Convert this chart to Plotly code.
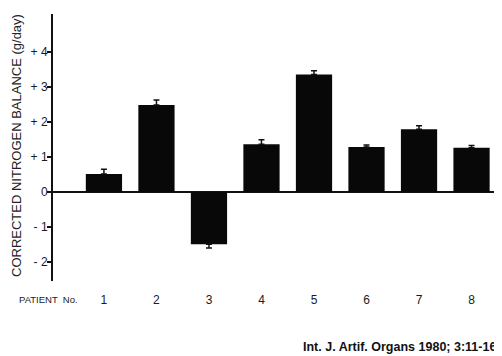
import plotly.graph_objects as go

patients = [1, 2, 3, 4, 5, 6, 7, 8]
patient_labels = ["1", "2", "3", "4", "5", "6", "7", "8"]
balance = [0.52, 2.49, -1.49, 1.37, 3.36, 1.29, 1.80, 1.27]
err_up = [0.13, 0.14, 0.0, 0.13, 0.11, 0.06, 0.10, 0.06]
err_down = [0.0, 0.0, 0.11, 0.0, 0.0, 0.0, 0.0, 0.0]
ytick_vals = [4, 3, 2, 1, 0, -1, -2]
ytick_text = ["+ 4", "+ 3", "+ 2", "+ 1", "0", "- 1", "- 2"]

# page body has an 8px margin, so the figure is laid out 8px up/left of window coords
OFF = 8
W, H = 502 - OFF, 356 - OFF
L, R, T = 53 - OFF, 0, 14 - OFF
B = H - (281 - OFF)
PW, PH = W - L - R, H - T - B
FONT = "Liberation Sans, Arial, sans-serif"


def px(xw):
    return (xw - OFF - L) / PW


def py(yw):
    return 1 - (yw - OFF - T) / PH


fig = go.Figure()
fig.add_trace(go.Bar(
    x=patients, y=balance, width=0.69,
    marker=dict(color="#080808", line=dict(width=0)),
    error_y=dict(type="data", symmetric=False, array=err_up, arrayminus=err_down,
                 color="#111", thickness=1.5, width=3),
))

fig.update_layout(
    width=W, height=H,
    margin=dict(l=L, r=R, t=T, b=B, pad=0, autoexpand=False),
    paper_bgcolor="white", plot_bgcolor="white",
    showlegend=False,
    font=dict(family=FONT, color="#1a1a1a"),
    xaxis=dict(range=[0.03, 8.58], tickvals=patients, ticktext=patient_labels,
               showgrid=False, zeroline=False, showline=False, ticks="",
               tickfont=dict(size=12, color="#1a1a1a"), ticklabelstandoff=10),
    yaxis=dict(range=[-2.54, 5.09], tickvals=ytick_vals, ticktext=ytick_text,
               showgrid=False, zeroline=True, zerolinecolor="#111", zerolinewidth=1.5,
               showline=True, linecolor="#111", linewidth=2,
               ticks="outside", ticklen=4, tickwidth=1.5, tickcolor="#111",
               tickfont=dict(size=12, color="#1a1a1a"), ticklabelstandoff=-3),
    annotations=[
        dict(text="CORRECTED NITROGEN BALANCE (g/day)", textangle=-90,
             xref="paper", yref="paper", x=px(16), y=py(146),
             xanchor="center", yanchor="middle", showarrow=False,
             font=dict(size=13, color="#222")),
        dict(text="PATIENT  No.", xref="paper", yref="paper",
             x=px(17), y=py(299),
             xanchor="left", yanchor="middle", showarrow=False,
             font=dict(size=9.5, color="#222")),
        dict(text="<b>Int. J. Artif. Organs 1980; 3:11-16</b>", xref="paper", yref="paper",
             x=px(498), y=py(347),
             xanchor="right", yanchor="middle", showarrow=False,
             font=dict(size=12.5, color="#111")),
    ],
)

fig.write_html("out.html")
